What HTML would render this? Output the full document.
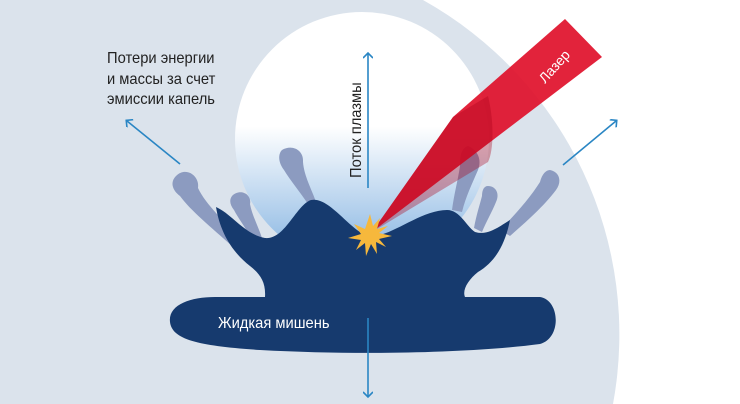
<!DOCTYPE html>
<html><head><meta charset="utf-8"><style>
html,body{margin:0;padding:0;background:#fff;}
svg{display:block;}
text{font-family:"Liberation Sans","Noto Sans CJK SC",sans-serif;}
</style></head><body>
<svg width="740" height="404" viewBox="0 0 740 404" xmlns="http://www.w3.org/2000/svg">
<defs>
<linearGradient id="pg" x1="0" y1="0" x2="0" y2="1">
<stop offset="0" stop-color="#fff"/>
<stop offset="0.45" stop-color="#fff"/>
<stop offset="1" stop-color="#7fb0e0"/>
</linearGradient>
<marker id="ah" markerWidth="10" markerHeight="10" refX="5" refY="5" orient="auto" markerUnits="userSpaceOnUse">
<path d="M1,0 L6,5 L1,10" fill="none" stroke="#2a86c4" stroke-width="1.6"/>
</marker>
</defs>
<rect width="740" height="404" fill="#fff"/>
<path d="M0,0 L423,0 A383,383 0 0 1 613,404 L0,404 Z" fill="#dbe3ec"/>
<circle cx="362" cy="139" r="127" fill="url(#pg)"/>
<!-- droplets -->
<g fill="#8c9bc0">
<path d="M176,176 C186,166 200,176 198,188 C206,205 225,222 242,240 L232,246 C212,228 190,210 180,196 C172,190 170,182 176,176 Z"/>
<path d="M232,196 C240,188 252,194 250,204 C252,215 258,226 262,238 L252,240 C246,228 238,218 234,210 C230,205 229,200 232,196 Z"/>
<path d="M282,150 C292,144 304,150 303,162 C304,176 312,190 316,202 L308,204 C300,192 290,180 284,170 C278,162 278,154 282,150 Z"/>
<path d="M468,146 C478,150 482,160 478,170 C472,184 466,196 462,212 L452,210 C454,194 458,180 460,166 C460,154 462,148 468,146 Z"/>
<path d="M488,186 C496,186 500,194 496,202 C492,212 486,222 482,232 L474,228 C476,216 480,204 482,196 C482,190 484,186 488,186 Z"/>
<path d="M550,170 C560,172 562,182 556,190 C544,206 526,222 510,236 L500,230 C514,216 530,198 540,182 C542,174 546,170 550,170 Z"/>
</g>
<!-- blob -->
<path fill="#163a6e" d="M216,207 C232,214 244,234 265,238 C285,240 296,205 311,200 C330,196 352,234 370,236 C390,238 420,210 447,210 C460,210 466,226 475,232 C488,236 500,226 510,220 C505,245 495,262 478,272 C468,280 462,290 465,297 L540,297 C560,300 562,338 540,344 C480,352 370,356 260,350 C200,346 172,340 170,322 C168,305 190,297 215,297 L265,297 C266,282 260,274 250,266 C232,252 220,232 216,207 Z"/>
<!-- laser -->
<path d="M372,232 L453,117 L565,19 L602,57 Z" fill="#e0102a" opacity="0.92"/>
<path d="M372,232 L453,117 L488,96 C494,120 494,150 488,162 Z" fill="#a8001a" opacity="0.35"/>
<text transform="translate(545,84) rotate(-48)" font-size="14" fill="#fff">Лазер</text>
<!-- star -->
<polygon fill="#f6b83c" points="370,214 373,226 380,218 377,229 388,226 379,233 392,236 379,239 386,247 376,242 377,254 371,244 366,256 365,243 356,250 361,240 348,238 361,234 354,224 365,229"/>
<!-- arrows -->
<g stroke="#2a86c4" stroke-width="1.6" fill="none">
<line x1="368" y1="188" x2="368" y2="54" marker-end="url(#ah)"/>
<line x1="368" y1="318" x2="368" y2="396" marker-end="url(#ah)"/>
<line x1="180" y1="164" x2="127" y2="121" marker-end="url(#ah)"/>
<line x1="563" y1="165" x2="616" y2="121" marker-end="url(#ah)"/>
</g>
<text font-size="15.5" fill="#222" transform="translate(107,63) scale(0.95,1)">Потери энергии</text>
<text font-size="15.5" fill="#222" transform="translate(107,84) scale(0.95,1)">и массы за счет</text>
<text font-size="15.5" fill="#222" transform="translate(107,104) scale(0.95,1)">эмиссии капель</text>
<text font-size="15.5" fill="#222" transform="translate(361,178) rotate(-90) scale(0.95,1)">Поток плазмы</text>
<text font-size="15.5" fill="#fff" transform="translate(218,328) scale(0.95,1)">Жидкая мишень</text>
</svg>
</body></html>
